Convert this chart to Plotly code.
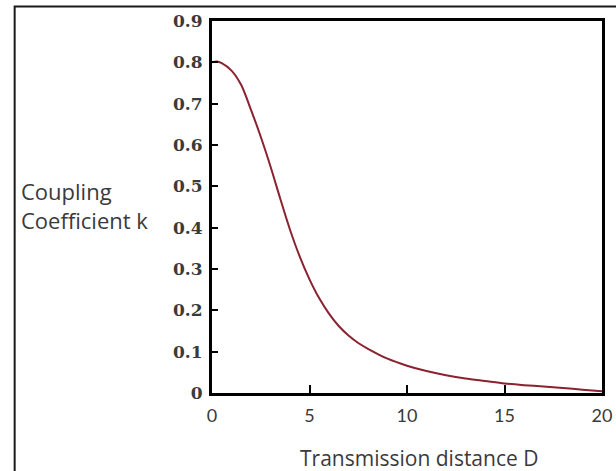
import plotly.graph_objects as go

# Data
distance_D = [0, 0.25, 0.5, 1.0, 1.5, 2.0, 2.5, 3.0, 3.5, 4.0, 4.5, 5.0, 5.5, 6.0, 6.5, 7.0,
              7.5, 8.0, 9.0, 10.0, 11.0, 12.0, 13.0, 14.0, 15.0, 16.0, 17.0, 18.0, 19.0, 20.0]
coupling_k = [0.800, 0.802, 0.798, 0.780, 0.745, 0.685, 0.620, 0.548, 0.470, 0.395, 0.330, 0.275,
              0.229, 0.192, 0.162, 0.139, 0.121, 0.107, 0.083, 0.066, 0.053, 0.043, 0.035, 0.029,
              0.023, 0.019, 0.016, 0.012, 0.008, 0.004]

x_tick_vals = [0, 5, 10, 15, 20]
x_tick_text = ["0", "5", "10", "15", "20"]
y_tick_vals = [0, 0.1, 0.2, 0.3, 0.4, 0.5, 0.6, 0.7, 0.8, 0.9]
y_tick_text = ["0", "0.1", "0.2", "0.3", "0.4", "0.5", "0.6", "0.7", "0.8", "0.9"]

x_title = "Transmission distance D"
y_title = "Coupling<br>Coefficient k"

fig = go.Figure()
fig.add_trace(go.Scatter(
    x=distance_D, y=coupling_k, mode="lines",
    line=dict(color="#8a2230", width=2, shape="spline", smoothing=0.8),
    hoverinfo="skip", showlegend=False,
))

fig.update_layout(
    width=616, height=471,
    margin=dict(l=212, r=4, t=21, b=78),
    paper_bgcolor="white", plot_bgcolor="white",
    showlegend=False,
    xaxis=dict(
        range=[0, 20], tickvals=x_tick_vals, ticktext=x_tick_text,
        showgrid=False, zeroline=False,
        showline=True, linecolor="black", linewidth=3, mirror=True,
        ticks="inside", ticklen=8, tickwidth=2, tickcolor="black",
        ticklabelstandoff=4, ticklabeloverflow="allow",
        tickfont=dict(family="Lato", size=18, color="#3a3a3a"),
    ),
    yaxis=dict(
        range=[0, 0.9], tickvals=y_tick_vals, ticktext=y_tick_text,
        showgrid=False, zeroline=False,
        showline=True, linecolor="black", linewidth=3, mirror=True,
        ticks="inside", ticklen=6, tickwidth=2, tickcolor="black",
        ticklabelstandoff=3, ticklabeloverflow="allow",
        tickfont=dict(family="DejaVu Serif", size=17, color="#3a3a3a", weight="bold"),
    ),
    annotations=[
        dict(text=x_title, xref="paper", yref="paper", x=0.532, y=-0.175,
             xanchor="center", yanchor="middle", showarrow=False,
             font=dict(family="Open Sans", size=21, color="#3a3a3a")),
        dict(text=y_title, xref="paper", yref="paper", x=-0.495, y=0.505,
             xanchor="left", yanchor="middle", align="left", showarrow=False,
             font=dict(family="Open Sans", size=22, color="#3a3a3a")),
    ],
    shapes=[
        dict(type="rect", xref="paper", yref="paper",
             x0=-0.506, x1=1.05, y0=-0.3, y1=1.039,
             line=dict(color="#1a1a1a", width=2), fillcolor="rgba(0,0,0,0)", layer="below"),
    ],
)

fig.write_html("out.html")
